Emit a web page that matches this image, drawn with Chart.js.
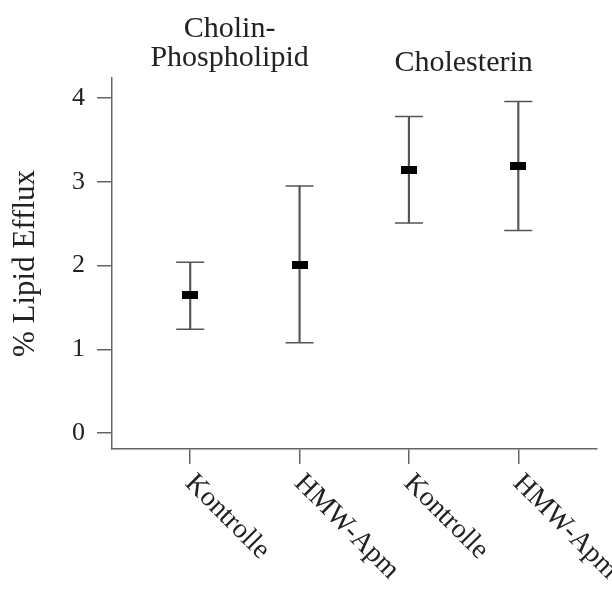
<!DOCTYPE html>
<html>
<head>
<meta charset="utf-8">
<script src="https://cdn.jsdelivr.net/npm/chart.js@4.4.1/dist/chart.umd.min.js"></script>
<style>
  html, body { margin: 0; padding: 0; background: #fff; }
  #wrap { width: 612px; height: 592px; }
</style>
</head>
<body>
<div id="wrap"><canvas id="chart" width="612" height="592"></canvas></div>
<script>
// ── Data ──────────────────────────────────────────────────────────────────────
const categories = ['Kontrolle', 'HMW-Apm', 'Kontrolle', 'HMW-Apm'];
const groupLabels = [['Cholin-', 'Phospholipid'], ['Cholesterin']];
const groupCenters = [0.36, 2.5];
const groupBaselines = [66, 71];
const means = [1.65, 2.01, 3.14, 3.19];
const upper = [2.04, 2.95, 3.78, 3.96];
const lower = [1.24, 1.08, 2.51, 2.42];
const yTicks = [0, 1, 2, 3, 4];

const FONT = '"Liberation Serif", "Times New Roman", serif';
const AXIS = '#666';
const INK = '#222';

// mean marker: small filled black rectangle
const markerImg = document.createElement('canvas');
markerImg.width = 16; markerImg.height = 8;
markerImg.getContext('2d').fillRect(0, 0, 16, 8);

// ── Text plugin: rotated category labels + group headings ─────────────────────
const labelsPlugin = {
  id: 'labels',
  afterDraw(chart) {
    const { ctx, scales: { x } } = chart;
    ctx.save();
    ctx.fillStyle = INK;
    ctx.font = `28px ${FONT}`;
    categories.forEach((c, i) => {
      const px = x.getPixelForValue(i);
      ctx.save();
      ctx.translate(px - 1, 479);
      ctx.rotate(Math.PI / 4);
      ctx.textAlign = 'left';
      ctx.textBaseline = 'middle';
      ctx.fillText(c, 0, 0);
      ctx.restore();
    });
    ctx.font = `30px ${FONT}`;
    ctx.textAlign = 'center';
    ctx.textBaseline = 'alphabetic';
    groupLabels.forEach((lines, g) => {
      const px = x.getPixelForValue(groupCenters[g]);
      const base = groupBaselines[g] - (lines.length - 1) * 29;
      lines.forEach((t, k) => ctx.fillText(t, px, base + k * 29));
    });
    ctx.restore();
  }
};

new Chart(document.getElementById('chart'), {
  type: 'scatter',
  data: {
    datasets: [
      {
        type: 'bar',
        data: categories.map((c, i) => ({ x: i, y: [lower[i], upper[i]] })),
        backgroundColor: '#555',
        borderWidth: 0,
        barThickness: 1.5,
        order: 3,
      },
      {
        data: categories.flatMap((c, i) => [{ x: i, y: lower[i] }, { x: i, y: upper[i] }]),
        pointStyle: 'line',
        radius: 14,
        borderWidth: 1.5,
        borderColor: '#555',
        order: 2,
      },
      {
        data: categories.map((c, i) => ({ x: i, y: means[i] })),
        pointStyle: markerImg,
        order: 1,
      },
    ]
  },
  options: {
    responsive: false,
    animation: false,
    events: [],
    layout: { padding: { top: 78, right: 12, left: 0, bottom: 0 } },
    plugins: { legend: { display: false }, tooltip: { enabled: false } },
    scales: {
      x: {
        type: 'linear',
        min: -0.715, max: 3.715,
        offset: false,
        afterBuildTicks: s => { s.ticks = categories.map((c, i) => ({ value: i })); },
        afterFit: s => { s.height = 143; },
        ticks: { display: false },
        grid: { offset: false, drawOnChartArea: false, drawTicks: true, tickLength: 15, color: AXIS, lineWidth: 1.5 },
        border: { color: AXIS, width: 1.5 },
      },
      y: {
        min: -0.19, max: 4.24,
        afterBuildTicks: s => { s.ticks = yTicks.map(v => ({ value: v })); },
        afterFit: s => { s.width = 112; },
        ticks: { color: INK, font: { family: FONT, size: 26 }, padding: 12 },
        grid: { offset: false, drawOnChartArea: false, drawTicks: true, tickLength: 15, color: AXIS, lineWidth: 1.5 },
        border: { color: AXIS, width: 1.5 },
        title: { display: true, text: '% Lipid Efflux', color: INK, font: { family: FONT, size: 31 }, padding: { top: 7, bottom: 0 } },
      }
    }
  },
  plugins: [labelsPlugin]
});
</script>
</body>
</html>
